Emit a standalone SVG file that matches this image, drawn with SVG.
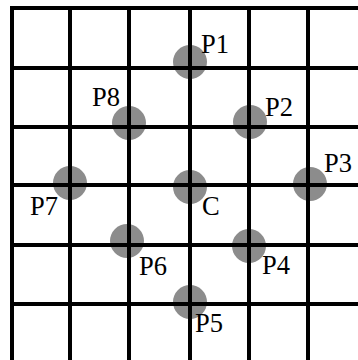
<svg xmlns="http://www.w3.org/2000/svg" width="358" height="360" viewBox="0 0 358 360">
<style>
.pt{fill:#8c8c8c}
.grid line{stroke:#000;stroke-width:4}
.lbl{font-family:'Liberation Serif','Times New Roman',serif;font-size:26.5px;fill:#000}
</style>
<rect width="358" height="360" fill="#fff"/>
<g id="P1"><circle class="pt" cx="190" cy="62" r="17"/><text class="lbl" x="201" y="53">P1</text></g>
<g id="P2"><circle class="pt" cx="250" cy="122" r="17"/><text class="lbl" x="265" y="116">P2</text></g>
<g id="P3"><circle class="pt" cx="310" cy="184" r="17"/><text class="lbl" x="324" y="172">P3</text></g>
<g id="P4"><circle class="pt" cx="249" cy="246" r="17"/><text class="lbl" x="262" y="274">P4</text></g>
<g id="P5"><circle class="pt" cx="190" cy="302" r="17"/><text class="lbl" x="195" y="332">P5</text></g>
<g id="P6"><circle class="pt" cx="127" cy="241" r="17"/><text class="lbl" x="139" y="275">P6</text></g>
<g id="P7"><circle class="pt" cx="70" cy="183" r="17"/><text class="lbl" x="30" y="215">P7</text></g>
<g id="P8"><circle class="pt" cx="129" cy="123" r="17"/><text class="lbl" x="92" y="106">P8</text></g>
<g id="C"><circle class="pt" cx="190" cy="187" r="17"/><text class="lbl" x="202" y="215">C</text></g>
<g class="grid" id="connectors">
<line x1="12" y1="6" x2="12" y2="360"/>
<line x1="70" y1="6" x2="70" y2="360"/>
<line x1="129" y1="6" x2="129" y2="360"/>
<line x1="190" y1="6" x2="190" y2="360"/>
<line x1="249" y1="6" x2="249" y2="360"/>
<line x1="308" y1="6" x2="308" y2="360"/>
<line x1="10" y1="8" x2="358" y2="8"/>
<line x1="10" y1="68" x2="358" y2="68"/>
<line x1="10" y1="127" x2="358" y2="127"/>
<line x1="10" y1="185" x2="358" y2="185"/>
<line x1="10" y1="245" x2="358" y2="245"/>
<line x1="10" y1="304" x2="358" y2="304"/>
</g>
</svg>
